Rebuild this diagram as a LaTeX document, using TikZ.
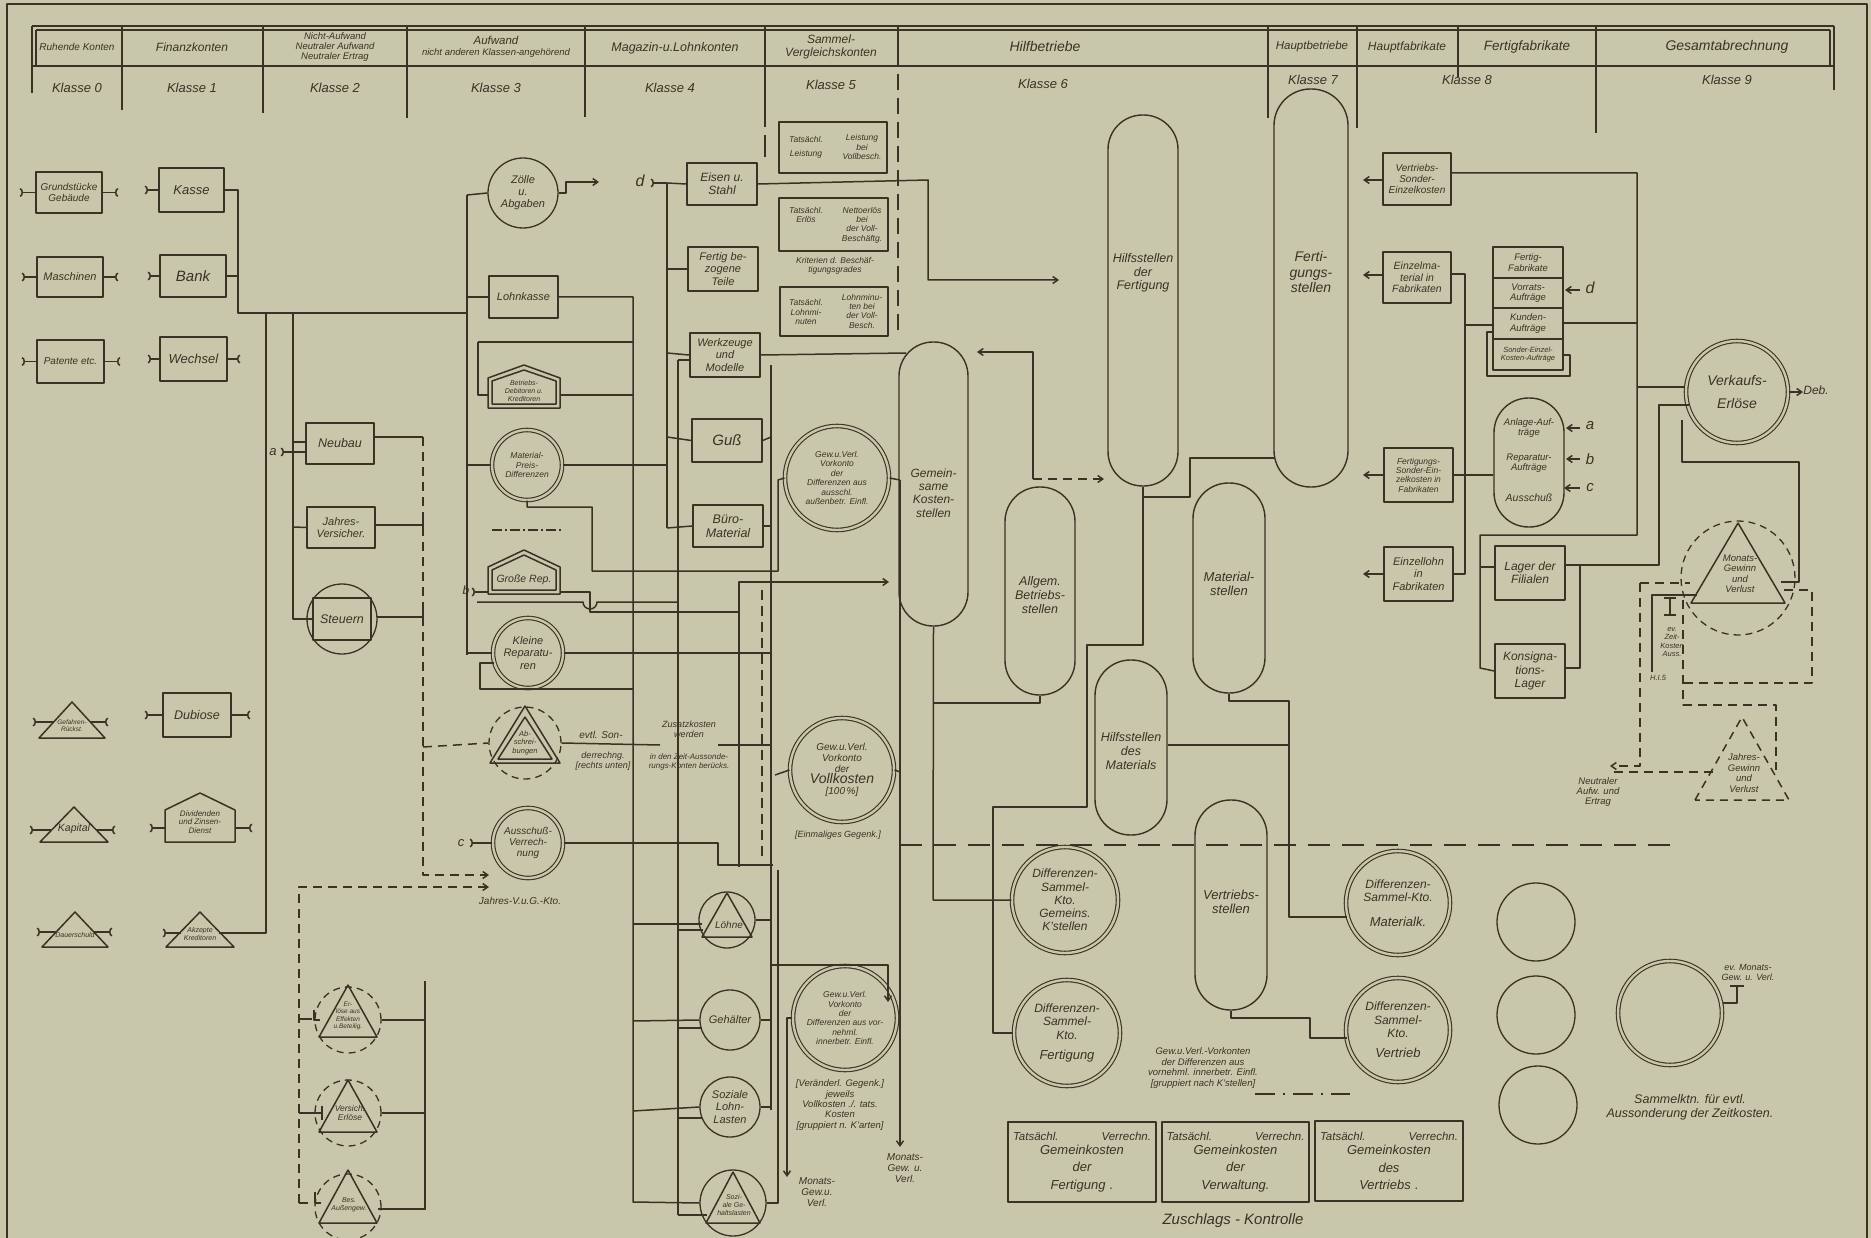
\documentclass[tikz,border=0pt]{standalone}
\usepackage{fontspec}
\setmainfont{Liberation Sans}[UprightFont=* Italic, ItalicFont=* Italic, BoldFont=* Bold Italic]
\usetikzlibrary{arrows.meta}
\definecolor{bg}{RGB}{201,199,171}
\definecolor{ink}{RGB}{58,50,36}
\newcommand\fz[1]{\fontsize{#1}{\fpeval{1.1*#1}}\selectfont}
\newcommand\house[6][]{\draw[ln,#1] (#2-#6,#5) -- (#2-#6,#4) -- (#2,#3) -- (#2+#6,#4) -- (#2+#6,#5) -- cycle;}
\newcommand\tri[5][]{\draw[ln,#1] (#2-#5,#4) -- (#2,#3) -- (#2+#5,#4) -- cycle;}
\begin{document}
\begin{tikzpicture}[x=1pt,y=-1pt, line join=round,
  ln/.style={draw=ink, line width=1.5pt},
  dl/.style={draw=ink, line width=1.5pt, dash pattern=on 9pt off 6pt},
  bx/.style={draw=ink, line width=1.6pt, rectangle, inner sep=1pt, align=center, text=ink},
  cc/.style={draw=ink, line width=1.3pt, circle, inner sep=0pt, align=center, text=ink},
  dcc/.style={cc, dash pattern=on 7pt off 5pt},
  dbl/.style={cc, double=bg, double distance=2.4pt, line width=1.1pt},
  pill/.style={draw=ink, line width=1.4pt, rectangle, rounded corners=#1, inner sep=0pt},
  lab/.style={align=center, inner sep=0pt, text=ink},
  fs/.style={font=\fz{#1}},
  arr/.style={ln, -{Straight Barb[length=5pt,width=7pt]}},
  darr/.style={dl, -{Straight Barb[length=5pt,width=7pt]}},
  stl/.style={ln, {Arc Barb[reversed,length=3pt,width=9pt]}-},
  str/.style={ln, -{Arc Barb[reversed,length=3pt,width=9pt]}},
]
\useasboundingbox (0,0) rectangle (1871,1238);
\fill[bg] (0,0) rectangle (1871,1238);
\draw[ink, line width=1.4pt] (7,1245) -- (7,4) -- (1867,4) -- (1867,1245);

% ================= header =================
\draw[ln] (32,26) -- (1834,26);
\draw[ln] (36,30) -- (1830,30);
\draw[ln] (32,66) -- (1834,66);
\draw[ln] (32,26) -- (32,93);
\draw[ln] (36,30) -- (36,66);
\draw[ln] (1830,30) -- (1830,66);
\foreach \hx/\hb in {122/110,263/113,407/118,585/117,1268/118,1357/128,1458/77,1596/133,1834/90}
  \draw[ln] (\hx,26) -- (\hx,\hb);
\draw[ln] (765,26) -- (765,127);
\draw[ln] (765,135) -- (765,157);
\draw[ln] (898,26) -- (898,66);
\draw[ln, dash pattern=on 16pt off 8pt] (898,74) -- (898,334);

\node[lab,fs=10] (h0) at (77,47) {Ruhende Konten};
\node[lab,fs=12] (h1) at (192,47) {Finanzkonten};
\node[lab,font=\fontsize{9.5}{9.8}\selectfont] (h2) at (335,47) {Nicht-Aufwand\\Neutraler Aufwand\\Neutraler Ertrag};
\node[lab,font=\fontsize{11.5}{11}\selectfont] (h3) at (496,47) {Aufwand\\{\fontsize{9.5}{10}\selectfont nicht anderen Klassen-angehörend}};
\node[lab,fs=12.5] (h4) at (675,48) {Magazin-u.Lohnkonten};
\node[lab,font=\fontsize{12}{12.5}\selectfont] (h5) at (831,47) {Sammel-\\Vergleichskonten};
\node[lab,fs=14] (h6) at (1045,47) {Hilfbetriebe};
\node[lab,fs=11.5] (h7) at (1312,47) {Hauptbetriebe};
\node[lab,fs=12] (h8) at (1407,47) {Hauptfabrikate};
\node[lab,fs=13.5] (h9) at (1527,47) {Fertigfabrikate};
\node[lab,fs=14] (h10) at (1727,47) {Gesamtabrechnung};
\node[lab,fs=13] (k0) at (77,88) {Klasse 0};
\node[lab,fs=13] (k1) at (192,88) {Klasse 1};
\node[lab,fs=13] (k2) at (335,88) {Klasse 2};
\node[lab,fs=13] (k3) at (496,88) {Klasse 3};
\node[lab,fs=13] (k4) at (670,88) {Klasse 4};
\node[lab,fs=13] (k5) at (831,85) {Klasse 5};
\node[lab,fs=13] (k6) at (1043,84) {Klasse 6};
\node[lab,fs=13] (k7) at (1313,80) {Klasse 7};
\node[lab,fs=13] (k8) at (1467,80) {Klasse 8};
\node[lab,fs=13] (k9) at (1727,80) {Klasse 9};

% ================= Klasse 0 =================
\node[bx, minimum width=66pt, minimum height=41pt, fs=10] (gg) at (69,192.5) {Grundstücke\\Gebäude};
\node[bx, minimum width=66pt, minimum height=40pt, fs=11] (ma) at (70,277) {Maschinen};
\node[bx, minimum width=67pt, minimum height=43pt, fs=10] (pa) at (70.5,361.5) {Patente etc.};
\tri{72}{702}{738}{33}
\node[lab,fs=6.5] (grt) at (72,726) {Gefahren-\\Rückst.};
\tri{74}{807}{842}{34}
\node[lab,fs=10.5] (kapt) at (74,829) {Kapital};
\tri{75}{912}{947}{33}
\node[lab,fs=7] (daut) at (75,935) {Dauerschuld};

% ================= Klasse 1 =================
\node[bx, minimum width=65pt, minimum height=44pt, fs=13] (ka) at (191.5,190) {Kasse};
\node[bx, minimum width=66pt, minimum height=42pt, fs=15] (ba) at (193,276) {Bank};
\node[bx, minimum width=67pt, minimum height=44pt, fs=13] (we) at (193.5,359) {Wechsel};
\node[bx, minimum width=68pt, minimum height=44pt, fs=12.5] (du) at (197,715) {Dubiose};
\house{200}{793}{810}{842}{35}
\node[lab,fs=8] (dzt) at (200,822) {Dividenden\\und Zinsen-\\Dienst};
\tri{200}{912}{947}{34}
\node[lab,fs=7] (akt) at (200,934) {Akzepte\\Kreditoren};

% ================= Klasse 2 =================
\node[bx, minimum width=68pt, minimum height=41pt, fs=12.5] (neu) at (340,443.5) {Neubau};
\node[bx, minimum width=68pt, minimum height=41pt, fs=11] (jv) at (341,527.5) {Jahres-\\Versicher.};
\node[cc, minimum size=70pt] (stc) at (342,619) {};
\node[bx, minimum width=58pt, minimum height=42pt, fs=12.5] (st) at (342,619) {Steuern};
\node[lab,fs=13] (la) at (273,452) {a};
\node[dcc, minimum size=66pt] (eec) at (348,1020) {};
\tri{348}{985}{1037}{29}
\node[lab,fs=6.5] (eet) at (348,1016) {Er-\\löse aus\\Effekten\\u.Beteilig.};
\node[dcc, minimum size=66pt] (vec) at (348,1113) {};
\tri{348}{1080}{1132}{29}
\node[lab,fs=8.5] (vet) at (350,1113) {Versich.\\Erlöse};
\node[dcc, minimum size=66pt] (bac) at (348,1207) {};
\tri{348}{1170}{1223}{29}
\node[lab,fs=7] (bat) at (349,1205) {Bes.\\Außengew.};
\node[lab,fs=10] (jvg) at (520,901) {Jahres-V.u.G.-Kto.};

% ================= Klasse 3 =================
\node[cc, minimum size=70pt, fs=11] (zo) at (523,193) {Zölle\\u.\\Abgaben};
\node[bx, minimum width=69pt, minimum height=42pt, fs=11] (lk) at (523.5,297) {Lohnkasse};
\house{524}{365}{378}{408}{36}
\house{524}{370}{381}{404}{32}
\node[lab,fs=7] (bdt) at (524,391) {Betriebs-\\Debitoren u.\\Kreditoren};
\node[dbl, minimum size=70pt, fs=8.5] (mpd) at (527,465) {Material-\\Preis-\\Differenzen};
\draw[ln, dash pattern=on 10pt off 3pt on 2pt off 3pt] (492,530) -- (562,530);
\house{524}{550}{567}{594}{36}
\house{524}{555}{570}{590}{32}
\node[lab,fs=10.5] (grpt) at (524,580) {Große Rep.};
\node[lab,fs=12] (lb) at (466,590) {b};
\node[dbl, minimum size=70pt, fs=11] (kr) at (528,653) {Kleine\\Reparatu-\\ren};
\node[dcc, minimum size=72pt] (abc) at (525,743) {};
\tri{525}{706}{763}{35}
\tri{525}{717}{759}{27}
\node[lab,fs=7.5] (abt) at (525,743) {Ab-\\schrei-\\bungen};
\node[dbl, minimum size=70pt, fs=10] (av) at (528,843) {Ausschuß-\\Verrech-\\nung};
\node[lab,fs=13] (lc) at (461,843) {c};
\node[lab,fs=10] (evt1) at (601,735) {evtl. Son-};
\node[lab,fs=9] (evt2) at (603,761) {derrechng.\\{}[rechts unten]};
\node[lab,fs=9] (zus1) at (689,729) {Zusatzkosten\\werden};
\node[lab,fs=8] (zus2) at (689,762) {in den Zeit-Aussonde-\\rungs-Konten berücks.};

% ================= Klasse 4 =================
\node[lab,fs=16] (ld) at (640,181) {d};
\node[bx, minimum width=70pt, minimum height=42pt, fs=12] (es) at (722,184) {Eisen u.\\Stahl};
\node[bx, minimum width=70pt, minimum height=44pt, fs=11] (fb) at (723,269) {Fertig be-\\zogene\\Teile};
\node[bx, minimum width=70pt, minimum height=44pt, fs=11] (wm) at (725,355) {Werkzeuge\\und\\Modelle};
\node[bx, minimum width=70pt, minimum height=43pt, fs=15] (gu) at (727,440.5) {Guß};
\node[bx, minimum width=70pt, minimum height=42pt, fs=12.5] (bm) at (728,526) {Büro-\\Material};
\node[cc, minimum size=56pt] (lo) at (727,920) {};
\tri{727}{893}{937}{25}
\node[lab,fs=10] (lot) at (729,925) {Löhne};
\node[cc, minimum size=60pt, fs=11] (ge) at (730,1020) {Gehälter};
\node[cc, minimum size=60pt, fs=11] (sl) at (730,1107) {Soziale\\Lohn-\\Lasten};
\node[cc, minimum size=66pt] (sg) at (733,1203) {};
\tri{733}{1172}{1223}{27}
\node[lab,fs=7] (sgt) at (734,1205) {Sozi-\\ale Ge-\\haltslasten};

% ================= Klasse 5 =================
\node[bx, minimum width=108pt, minimum height=51pt] (b1) at (833,147.5) {};
\node[lab,fs=8.5] (b1l) at (806,147) {Tatsächl.\\[5pt]Leistung};
\node[lab,fs=8.5] (b1r) at (862,147) {Leistung\\bei\\Vollbesch.};
\node[bx, minimum width=109pt, minimum height=53pt] (b2) at (833.5,224.5) {};
\node[lab,fs=8.5] (b2l) at (806,215) {Tatsächl.\\Erlös};
\node[lab,fs=8.5] (b2r) at (862,225) {Nettoerlös\\bei\\der Voll-\\Beschäftg.};
\node[lab,fs=8.5] (krit) at (835,266) {Kriterien d. Beschäf-\\tigungsgrades};
\node[bx, minimum width=108pt, minimum height=49pt] (b3) at (834,311.5) {};
\node[lab,fs=8.5] (b3l) at (806,312) {Tatsächl.\\Lohnmi-\\nuten};
\node[lab,fs=8.5] (b3r) at (862,311) {Lohnminu-\\ten bei\\der Voll-\\Besch.};
\node[dbl, minimum size=104pt, fs=8.5] (v1) at (837,478) {Gew.u.Verl.\\Vorkonto\\der\\Differenzen aus\\ausschl.\\außenbetr. Einfl.};
\node[dbl, minimum size=104pt, fs=10] (v2) at (842,770) {Gew.u.Verl.\\Vorkonto\\der\\{\fz{14}Vollkosten}\\{}[100\,\%]};
\node[lab,fs=9] (einm) at (838,835) {[Einmaliges Gegenk.]};
\node[dbl, minimum size=104pt, fs=8.5] (v3) at (845,1018) {Gew.u.Verl.\\Vorkonto\\der\\Differenzen aus vor-\\nehml.\\innerbetr. Einfl.};
\node[lab,fs=9.5] (verg) at (840,1105) {[Veränderl. Gegenk.]\\jeweils\\Vollkosten ./. tats.\\Kosten\\{}[gruppiert n. K'arten]};
\node[lab,fs=10] (mon1) at (817,1192) {Monats-\\Gew.u.\\Verl.};
\node[lab,fs=10] (mon2) at (905,1168) {Monats-\\Gew. u.\\Verl.};

% ================= Klasse 6 =================
\node[pill=34pt, minimum width=69pt, minimum height=284pt] (gk) at (933.5,484) {};
\node[lab,fs=12] (gkt) at (933.5,493) {Gemein-\\same\\Kosten-\\stellen};
\node[pill=34.5pt, minimum width=70pt, minimum height=371pt] (hf) at (1143,300.5) {};
\node[lab,fs=12.5] (hft) at (1143,273) {Hilfsstellen\\der\\Fertigung};
\node[pill=36.5pt, minimum width=74pt, minimum height=398pt] (fs) at (1311,288) {};
\node[lab,fs=14] (fst) at (1311,272) {Ferti-\\gungs-\\stellen};
\node[pill=34.5pt, minimum width=70pt, minimum height=208pt] (agb) at (1040,591) {};
\node[lab,fs=12.5] (agbt) at (1040,595) {Allgem.\\Betriebs-\\stellen};
\node[pill=35.5pt, minimum width=72pt, minimum height=210pt] (ms) at (1229,588) {};
\node[lab,fs=13] (mst) at (1229,584) {Material-\\stellen};
\node[pill=35.5pt, minimum width=72pt, minimum height=175pt] (hm) at (1131,747.5) {};
\node[lab,fs=12.5] (hmt) at (1131,751) {Hilfsstellen\\des\\Materials};
\node[pill=35.5pt, minimum width=72pt, minimum height=210pt] (vs) at (1231,905) {};
\node[lab,fs=13] (vst) at (1231,902) {Vertriebs-\\stellen};
\node[dbl, minimum size=106pt, fs=12] (dg) at (1065,900) {Differenzen-\\Sammel-\\Kto.\\Gemeins.\\K'stellen};
\node[dbl, minimum size=106pt, fs=12] (df) at (1067,1033) {Differenzen-\\Sammel-\\Kto.\\[7pt]{\fz{13}Fertigung}};
\node[dbl, minimum size=104pt, fs=12] (dm) at (1398,903) {Differenzen-\\Sammel-Kto.\\[12pt]{\fz{13}Materialk.}};
\node[dbl, minimum size=104pt, fs=12] (dv) at (1398,1030) {Differenzen-\\Sammel-\\Kto.\\[7pt]{\fz{13}Vertrieb}};
\node[lab,fs=9.5] (gvk) at (1203,1068) {Gew.u.Verl.-Vorkonten\\der Differenzen aus\\vornehml. innerbetr. Einfl.\\{}[gruppiert nach K'stellen]};
\draw[ln, dash pattern=on 20pt off 8pt on 2pt off 8pt] (1255,1094) -- (1350,1094);
\node[bx, minimum width=148pt, minimum height=80pt, text width=138pt, fs=13] (zk1) at (1082,1162) {{\fz{11.5}Tatsächl.\hfill Verrechn.}\\Gemeinkosten\\[3pt]der\\[3pt]Fertigung .};
\node[bx, minimum width=147pt, minimum height=80pt, text width=138pt, fs=13] (zk2) at (1235.5,1162) {{\fz{11.5}Tatsächl.\hfill Verrechn.}\\Gemeinkosten\\[3pt]der\\[3pt]Verwaltung.};
\node[bx, minimum width=148pt, minimum height=80pt, text width=138pt, fs=13] (zk3) at (1389,1161) {{\fz{11.5}Tatsächl.\hfill Verrechn.}\\Gemeinkosten\\[3pt]des\\[3pt]Vertriebs .};
\node[lab,fs=15] (zkk) at (1233,1221) {Zuschlags - Kontrolle};

% ================= Klasse 8 =================
\node[bx, minimum width=68pt, minimum height=52pt, fs=10] (vse) at (1417,179) {Vertriebs-\\Sonder-\\Einzelkosten};
\node[bx, minimum width=68pt, minimum height=51pt, fs=10.5] (emf) at (1417,277.5) {Einzelma-\\terial in\\Fabrikaten};
\node[bx, minimum width=70pt, minimum height=31pt, fs=9.5] (ff) at (1528,262.5) {Fertig-\\Fabrikate};
\node[bx, minimum width=70pt, minimum height=30pt, fs=9.5] (va) at (1528,293) {Vorrats-\\Aufträge};
\node[bx, minimum width=70pt, minimum height=31pt, fs=9.5] (kua) at (1528,323.5) {Kunden-\\Aufträge};
\node[bx, minimum width=70pt, minimum height=31pt, fs=7.5] (sea) at (1528,354.5) {Sonder-Einzel-\\Kosten-Aufträge};
\node[lab,fs=16] (ld2) at (1590,288) {d};
\node[pill=34.5pt, minimum width=70pt, minimum height=129pt] (aa) at (1529,462.5) {};
\node[lab,fs=9.5] (aa1) at (1529,428) {Anlage-Auf-\\träge};
\node[lab,fs=9.5] (aa2) at (1529,463) {Reparatur-\\Aufträge};
\node[lab,fs=10.5] (aa3) at (1529,498) {Ausschuß};
\node[lab,fs=15] (lla) at (1590,426) {a};
\node[lab,fs=15] (llb) at (1590,459) {b};
\node[lab,fs=15] (llc) at (1590,488) {c};
\node[bx, minimum width=69pt, minimum height=54pt, fs=8.5] (fse) at (1418.5,475) {Fertigungs-\\Sonder-Ein-\\zelkosten in\\Fabrikaten};
\node[bx, minimum width=69pt, minimum height=54pt, fs=11] (el) at (1418.5,574) {Einzellohn\\in\\Fabrikaten};
\node[bx, minimum width=70pt, minimum height=54pt, fs=12] (ldf) at (1530,573) {Lager der\\Filialen};
\node[bx, minimum width=70pt, minimum height=54pt, fs=12] (kl) at (1530,671) {Konsigna-\\tions-\\Lager};

% ================= Klasse 9 =================
\node[dbl, minimum size=102pt, fs=14] (ve) at (1737,392) {Verkaufs-\\[8pt]Erlöse};
\node[lab,fs=12] (deb) at (1816,390) {Deb.};
\node[dcc, minimum size=114pt] (mgc) at (1738,578) {};
\tri{1738}{523}{603}{47}
\node[lab,fs=9.5] (mgt) at (1740,574) {Monats-\\Gewinn\\und\\Verlust};
\tri[dash pattern=on 8pt off 6pt]{1742}{717}{800}{47}
\node[lab,fs=9.5] (jgt) at (1744,773) {Jahres-\\Gewinn\\und\\Verlust};
\node[lab,fs=7.5] (ezk) at (1672,642) {ev.\\Zeit-\\Kosten\\Auss.};
\node[lab,fs=7.5] (hi5) at (1658,678) {H.I.5};
\node[lab,fs=9.5] (neut) at (1598,792) {Neutraler\\Aufw. und\\Ertrag};
\node[cc, minimum size=78pt] (e1) at (1536,922) {};
\node[cc, minimum size=78pt] (e2) at (1536,1015) {};
\node[cc, minimum size=78pt] (e3) at (1538,1105) {};
\node[dbl, minimum size=104pt] (em) at (1670,1013) {};
\node[lab,fs=9] (emt) at (1748,972) {ev. Monats-\\Gew. u. Verl.};
\node[lab,fs=12.5] (samm) at (1690,1107) {Sammelktn. für evtl.\\Aussonderung der Zeitkosten.};

% ================= connectors: Klasse 0/1 =================
\draw[stl] (20,192.5) -- (gg.west); \draw[str] (gg.east) -- (118,192.5);
\draw[stl] (22,277) -- (ma.west); \draw[str] (ma.east) -- (118,277);
\draw[stl] (22,361.5) -- (pa.west); \draw[str] (pa.east) -- (120,361.5);
\draw[stl] (33,722) -- (54,722); \draw[str] (90,722) -- (108,722);
\draw[stl] (30,830) -- (52,830); \draw[str] (96,830) -- (115,830);
\draw[stl] (37,932) -- (56,932); \draw[str] (94,932) -- (112,932);
\draw[stl] (145,190) -- (ka.west);
\draw[stl] (148,276) -- (ba.west);
\draw[stl] (148,359) -- (we.west); \draw[str] (we.east) -- (240,359);
\draw[stl] (145,715) -- (du.west); \draw[str] (du.east) -- (250,715);
\draw[stl] (150,828) -- (165,828); \draw[str] (235,828) -- (252,828);
\draw[stl] (163,933) -- (181,933);
\draw[ln] (219,933) -- (266,933) -- (266,313);
\draw[ln] (ka.east) -- (238,190) -- (238,313) -- (467,313);
\draw[ln] (ba.east) -- (238,276);
\draw[ln] (293,313) -- (293,619) -- (st.west);
\draw[ln] (293,442) -- (306,442);
\draw[stl] (281,452) -- (306,452);
\draw[ln] (293,527) -- (jv.west);

% ================= connectors: Klasse 2 =================
\draw[ln] (374,437) -- (423,437);
\draw[darr] (423,437) -- (423,875) -- (489,875);
\draw[ln] (375,525) -- (423,525); \draw[ln] (423,519) -- (423,531);
\draw[ln] (377,617) -- (423,617); \draw[ln] (423,611) -- (423,623);
\draw[dl] (423,747) -- (abc.west);
\draw[darr] (299,1203) -- (299,887) -- (489,887);
\draw[ln] (299,1019) -- (312,1019); \draw[ln] (314,1010) -- (314,1020) -- (320,1020);
\draw[ln] (299,1113) -- (322,1113); \draw[ln] (322,1106) -- (322,1120);
\draw[ln] (299,1203) -- (308,1203); \draw[ln] (315,1192) -- (315,1203) -- (321,1203);
\draw[ln] (425,981) -- (425,1210);
\draw[ln] (eec.east) -- (425,1020);
\draw[ln] (vec.east) -- (425,1113);
\draw[ln] (378,1209) -- (425,1209);

% ================= connectors: Klasse 3 =================
\draw[ln] (467,195) -- (467,655);
\draw[ln] (467,195) -- (zo.west);
\draw[arr] (zo.east) -- (566,193) -- (566,182) -- (599,182);
\draw[ln] (467,297) -- (lk.west);
\draw[ln] (lk.east) -- (633,297) -- (633,1202) -- (sg.west);
\draw[ln] (478,342) -- (633,342);
\draw[ln] (478,342) -- (478,395) -- (488,395);
\draw[ln] (560,395) -- (633,395);
\draw[ln] (467,465) -- (mpd.west);
\draw[ln] (mpd.east) -- (667,465);
\draw[ln] (mpd.south) -- (527,507) -- (592,507) -- (592,571) -- (778,571) -- (778,480) -- (v1.west);
\draw[stl] (472,592) -- (489,592);
\draw[ln] (560,592) -- (590,592) -- (590,612) -- (739,612);
\draw[ln] (477,602) -- (583,602) arc[start angle=180, end angle=0, radius=7] -- (678,602);
\draw[ln] (467,653) -- (kr.west);
\draw[ln] (kr.east) -- (771,653);
\draw[ln] (494,663) -- (480,663) -- (480,689) -- (633,689);
\draw[ln] (abc.east) -- (660,745);
\draw[ln] (718,745) -- (771,745);
\draw[stl] (470,843) -- (av.west);
\draw[ln] (av.east) -- (718,843) -- (718,865) -- (773,865);

% ================= connectors: Klasse 4 =================
\draw[stl] (651,183) -- (667,183);
\draw[ln] (667,183) -- (667,528);
\draw[ln] (667,183) -- (es.west);
\draw[ln] (667,269) -- (fb.west);
\draw[ln] (667,353) -- (wm.west);
\draw[ln] (667,437) -- (gu.west);
\draw[ln] (667,528) -- (bm.west);
\draw[ln] (678,360) -- (wm.west |- 0,360);
\draw[ln] (678,360) -- (678,1215);
\draw[arr] (es.east) -- (928,180) -- (928,280) -- (1059,280);
\draw[ln] (wm.east) -- (906,353);
\draw[ln] (771,365) -- (771,1110);
\draw[ln] (gu.east) -- (771,437);
\draw[ln] (bm.east) -- (771,526);
\draw[arr] (739,867) -- (739,582) -- (889,582);
\draw[ln, dash pattern=on 10pt off 6pt] (762,590) -- (762,857);
\draw[ln] (633,924) -- (702,924);
\draw[ln] (678,930) -- (703,930);
\draw[ln] (633,1021) -- (ge.west);
\draw[ln] (678,1028) -- (702,1028);
\draw[ln] (633,1111) -- (sl.west);
\draw[ln] (678,1118) -- (702,1118);
\draw[ln] (678,1215) -- (707,1215);
\draw[ln] (lo.east) -- (771,920);
\draw[ln] (ge.east) -- (771,1020);
\draw[ln] (sl.east) -- (771,1107);
\draw[ln] (sg.east) -- (778,1203) -- (778,870);

% ================= connectors: Klasse 5 =================
\draw[ln] (v1.east) -- (900,480);
\draw[arr] (900,480) -- (900,1147);
\draw[ln] (775,775) -- (v2.west);
\draw[ln] (v2.east) -- (900,772);
\draw[arr] (771,965) -- (888,965) -- (888,1002);
\draw[arr] (v3.west) -- (787,1018) -- (787,1177);
\draw[draw=ink, line width=1.5pt, dash pattern=on 22pt off 12pt] (900,845) -- (1678,845);

% ================= connectors: Klasse 6 =================
\draw[arr] (1033,479) -- (1033,352) -- (977,352);
\draw[darr] (1033,479) -- (1104,479);
\draw[ln] (hf.south) -- (1143,645) -- (1087,645) -- (1087,807) -- (993,807) -- (993,1033) -- (df.west);
\draw[ln] (1143,497) -- (1190,497) -- (1190,458) -- (1275,458);
\draw[ln] (gk.south) -- (933,900) -- (dg.west);
\draw[ln] (agb.south) -- (1040,703) -- (933,703);
\draw[ln] (ms.south) -- (1229,701) -- (1289,701) -- (1289,917) -- (1347,917);
\draw[ln] (hm.east |- 0,745) -- (1289,745);
\draw[ln] (vs.south) -- (1231,1018) -- (1310,1018) -- (1310,1038) -- (1347,1038);
\draw[ln] (em.east |- 0,1003) -- (1737,1003) -- (1737,986);
\draw[ln] (1730,986) -- (1744,986);

% ================= connectors: Klasse 8/9 =================
\draw[arr] (vse.west |- 0,180) -- (1363,180);
\draw[arr] (emf.west |- 0,275) -- (1363,275);
\draw[arr] (fse.west) -- (1363,475);
\draw[arr] (el.west) -- (1363,574);
\draw[ln] (vse.east |- 0,173) -- (1637,173) -- (1637,535) -- (1480,535) -- (1480,668) -- (kl.west);
\draw[ln] (1637,387) -- (ve.west |- 0,387);
\draw[ln] (emf.east |- 0,274) -- (1465,274) -- (1465,574) -- (el.east);
\draw[ln] (1465,325) -- (kua.west |- 0,325);
\draw[ln] (fse.east) -- (aa.west |- 0,475);
\draw[ln] (kua.east |- 0,323) -- (1637,323);
\draw[ln] (1493,332) -- (1487,332) -- (1487,376) -- (1570,376) -- (1570,355) -- (1563,355);
\draw[arr] (1580,290) -- (1565,290);
\draw[arr] (1580,428) -- (1566,428);
\draw[arr] (1580,459) -- (1566,459);
\draw[arr] (1580,488) -- (1564,488);
\draw[ln] (1480,567) -- (ldf.west |- 0,567);
\draw[ln] (1689,405) -- (1659,405) -- (1659,565) -- (ldf.east |- 0,565);
\draw[ln] (1580,565) -- (1580,668) -- (kl.east |- 0,668);
\draw[ln] (1682,420) -- (1682,462) -- (1799,462) -- (1799,582) -- (1781,582);
\draw[arr] (ve.east) -- (1803,392);
\draw[dl] (1640,583) -- (1690,583);
\draw[darr] (1640,583) -- (1640,766) -- (1610,766);
\draw[dl] (1784,590) -- (1812,590) -- (1812,683) -- (1683,683);
\draw[dl] (1683,600) -- (1683,705) -- (1776,705) -- (1776,770);
\draw[dl] (1713,772) -- (1614,772);
\draw[ln] (1652,672) -- (1652,595) -- (1697,595);
\draw[ln] (1670,598) -- (1670,615); \draw[ln] (1664,598) -- (1676,598); \draw[ln] (1664,615) -- (1676,615);
\end{tikzpicture}
\end{document}
